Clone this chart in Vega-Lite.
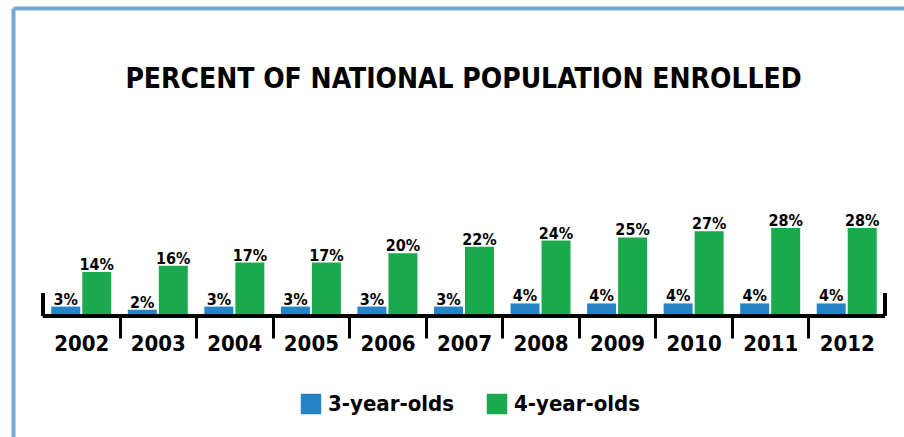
{
  "$schema": "https://vega.github.io/schema/vega-lite/v6.json",
  "autosize": "none",
  "width": 891,
  "height": 429,
  "padding": {"left": 13, "top": 8, "right": 0, "bottom": 0},
  "background": "white",
  "config": {
    "view": {"stroke": null},
    "font": "DejaVu Sans Condensed",
    "title": {"font": "DejaVu Sans Condensed", "fontWeight": "bold", "fontSize": 28, "color": "#000000", "anchor": "middle", "offset": -86, "dx": 5}
  },
  "title": "PERCENT OF NATIONAL POPULATION ENROLLED",
  "data": {
    "values": [
      {"year": "2002", "group": "3-year-olds", "pct": 3},
      {"year": "2002", "group": "4-year-olds", "pct": 14},
      {"year": "2003", "group": "3-year-olds", "pct": 2},
      {"year": "2003", "group": "4-year-olds", "pct": 16},
      {"year": "2004", "group": "3-year-olds", "pct": 3},
      {"year": "2004", "group": "4-year-olds", "pct": 17},
      {"year": "2005", "group": "3-year-olds", "pct": 3},
      {"year": "2005", "group": "4-year-olds", "pct": 17},
      {"year": "2006", "group": "3-year-olds", "pct": 3},
      {"year": "2006", "group": "4-year-olds", "pct": 20},
      {"year": "2007", "group": "3-year-olds", "pct": 3},
      {"year": "2007", "group": "4-year-olds", "pct": 22},
      {"year": "2008", "group": "3-year-olds", "pct": 4},
      {"year": "2008", "group": "4-year-olds", "pct": 24},
      {"year": "2009", "group": "3-year-olds", "pct": 4},
      {"year": "2009", "group": "4-year-olds", "pct": 25},
      {"year": "2010", "group": "3-year-olds", "pct": 4},
      {"year": "2010", "group": "4-year-olds", "pct": 27},
      {"year": "2011", "group": "3-year-olds", "pct": 4},
      {"year": "2011", "group": "4-year-olds", "pct": 28},
      {"year": "2012", "group": "3-year-olds", "pct": 4},
      {"year": "2012", "group": "4-year-olds", "pct": 28}
    ]
  },
  "resolve": {"axis": {"x": "independent"}},
  "layer": [
    {
      "mark": {"type": "bar"},
      "encoding": {
        "x": {
          "field": "year", "type": "nominal",
          "scale": {"paddingInner": 0, "paddingOuter": 0.32, "align": 0.612},
          "axis": {
            "orient": "bottom", "offset": -121, "title": null, "domain": false,
            "labelAngle": 0, "labelFont": "DejaVu Sans Condensed", "labelFontWeight": "bold", "labelFontSize": 22, "labelColor": "#000000",
            "tickSize": 22, "tickWidth": 3, "tickColor": "#000000",
            "tickOpacity": {"condition": {"test": "datum.value === '2002'", "value": 0}, "value": 1},
            "tickOffset": -38.27, "labelOffset": 38.27, "labelPadding": -5
          }
        },
        "xOffset": {"field": "group", "type": "nominal", "scale": {"paddingInner": 0.065, "paddingOuter": 0.267}},
        "y": {
          "field": "pct", "type": "quantitative", "stack": null,
          "scale": {"domain": [-38.5, 98], "nice": false, "zero": false},
          "axis": {"orient": "left", "title": null, "labels": false, "ticks": false, "grid": false, "domainColor": "#74a9d6", "domainWidth": 4}
        },
        "color": {
          "field": "group", "type": "nominal",
          "scale": {"domain": ["3-year-olds", "4-year-olds"], "range": ["#2484c6", "#1aaa4d"]},
          "legend": {
            "title": null, "orient": "none", "legendX": 287, "legendY": 385, "direction": "horizontal",
            "symbolType": "square", "symbolSize": 420, "symbolStrokeWidth": 0, "symbolOpacity": 1,
            "labelFont": "DejaVu Sans Condensed", "labelFontWeight": "bold", "labelFontSize": 22, "labelColor": "#000000",
            "labelOffset": 6, "columnPadding": 32
          }
        }
      }
    },
    {
      "transform": [{"calculate": "datum.pct + '%'", "as": "lbl"}],
      "mark": {"type": "text", "baseline": "alphabetic", "dy": -2, "font": "DejaVu Sans Condensed", "fontWeight": "bold", "fontSize": 16, "color": "#000000"},
      "encoding": {
        "x": {"field": "year", "type": "nominal", "axis": null},
        "xOffset": {"field": "group", "type": "nominal"},
        "y": {"field": "pct", "type": "quantitative"},
        "text": {"field": "lbl", "type": "nominal"},
        "color": {"value": "#000000"}
      }
    },
    {
      "mark": {"type": "rule", "color": "#000000", "strokeWidth": 3},
      "encoding": {
        "x": {"datum": "2002", "bandPosition": 0, "axis": {"orient": "top", "title": null, "labels": false, "ticks": false, "grid": false, "domainColor": "#74a9d6", "domainWidth": 4}},
        "x2": {"datum": "2012", "bandPosition": 1},
        "y": {"datum": 0}
      }
    },
    {
      "mark": {"type": "rule", "color": "#000000", "strokeWidth": 3},
      "encoding": {
        "x": {"datum": "2002", "bandPosition": 0, "axis": null},
        "y": {"datum": 0},
        "y2": {"datum": 7.3}
      }
    },
    {
      "mark": {"type": "rule", "color": "#000000", "strokeWidth": 3},
      "encoding": {
        "x": {"datum": "2012", "bandPosition": 1, "axis": null},
        "y": {"datum": 0},
        "y2": {"datum": 7.3}
      }
    }
  ]
}
